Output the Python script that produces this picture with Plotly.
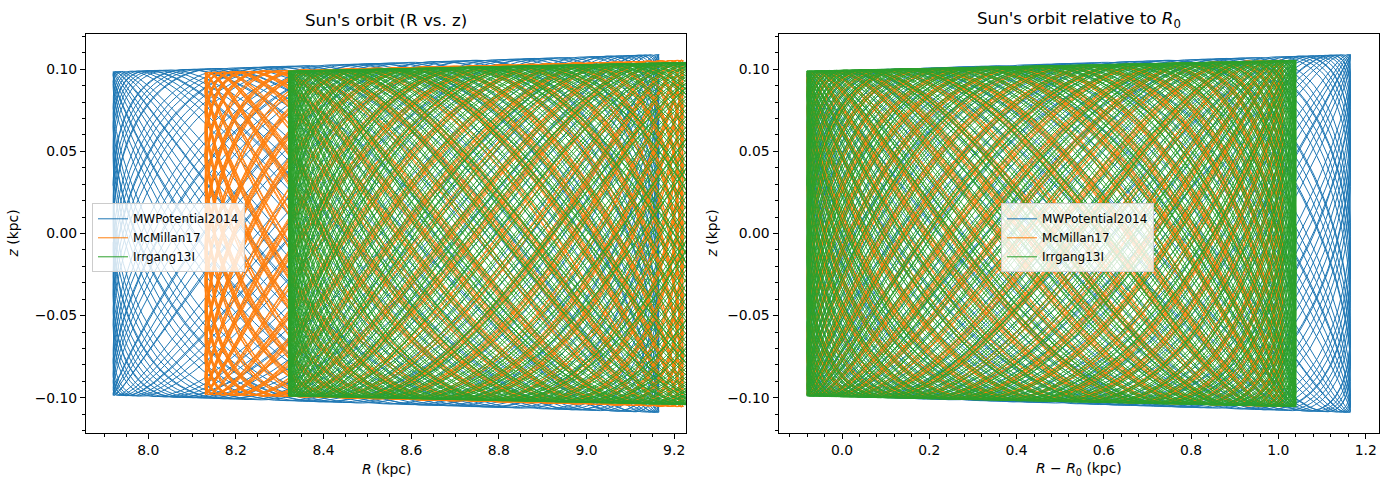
import numpy as np
import plotly.graph_objects as go

# ---- data ----
models = ["MWPotential2014", "McMillan17", "Irrgang13I"]
colors = ["#1f77b4", "#ff7f0e", "#2ca02c"]
R0_kpc = [8.0, 8.21, 8.4]                 # solar radius of each potential
dR_min = [-0.08, -0.08, -0.08]            # pericentre relative to R0 (kpc)
dR_max = [1.165, 1.01, 1.04]              # apocentre relative to R0 (kpc)
z_amp_inner = [0.0985, 0.098, 0.099]      # |z| envelope at pericentre (kpc)
z_amp_outer = [0.109, 0.1055, 0.1055]     # |z| envelope at apocentre (kpc)
nu_over_kappa = [1.7236, 1.7813, 1.8219]  # vertical / radial frequency ratio
n_radial_periods = [40, 85, 85]           # radial periods covered by the integration

left_xticks = [8.0, 8.2, 8.4, 8.6, 8.8, 9.0, 9.2]
right_xticks = [0.0, 0.2, 0.4, 0.6, 0.8, 1.0, 1.2]
yticks = [-0.10, -0.05, 0.00, 0.05, 0.10]

W, H = 1388, 490
FONT = "DejaVu Sans"


def orbit(i):
    n = n_radial_periods[i]
    t = np.linspace(0, 2 * np.pi * n, n * 260)
    mid = 0.5 * (dR_min[i] + dR_max[i])
    half = 0.5 * (dR_max[i] - dR_min[i])
    dR = mid - half * np.cos(t)
    frac = (dR - dR_min[i]) / (dR_max[i] - dR_min[i])
    Z = z_amp_inner[i] + (z_amp_outer[i] - z_amp_inner[i]) * frac
    z = Z * np.sin(nu_over_kappa[i] * t + 0.3)
    return dR, z


fig = go.Figure()
for i, name in enumerate(models):
    dR, z = orbit(i)
    fig.add_trace(go.Scatter(x=R0_kpc[i] + dR, y=z, mode="lines", name=name,
                             line=dict(color=colors[i], width=1),
                             xaxis="x", yaxis="y", legend="legend"))
for i, name in enumerate(models):
    dR, z = orbit(i)
    fig.add_trace(go.Scatter(x=dR, y=z, mode="lines", name=name,
                             line=dict(color=colors[i], width=1),
                             xaxis="x2", yaxis="y2", legend="legend2"))

# axes geometry (pixels)
L1, R1 = 86, 686
L2, R2 = 778.5, 1379
T, B = 34.3, 432.7
dom_y = [1 - B / H, 1 - T / H]

common = dict(showline=True, linecolor="black", linewidth=1, mirror=True,
              showgrid=False, zeroline=False, ticks="outside", ticklen=5,
              tickwidth=1, tickcolor="black",
              tickfont=dict(family=FONT, size=13.9, color="black"))

fig.update_layout(
    width=W, height=H, margin=dict(l=0, r=0, t=0, b=0),
    paper_bgcolor="white", plot_bgcolor="white",
    font=dict(family=FONT, color="black"),
    xaxis=dict(domain=[L1 / W, R1 / W], range=[7.858, 9.227],
               tickvals=left_xticks, tickformat=".1f",
               minor=dict(dtick=0.05, tick0=8.0, ticks="outside", ticklen=3,
                          tickwidth=1, tickcolor="black"),
               anchor="y", **common),
    yaxis=dict(domain=dom_y, range=[-0.1213, 0.1213],
               tickvals=yticks, tickformat=".2f",
               minor=dict(dtick=0.01, tick0=0, ticks="outside", ticklen=3,
                          tickwidth=1, tickcolor="black"),
               anchor="x", **common),
    xaxis2=dict(domain=[L2 / W, R2 / W], range=[-0.1455, 1.2305],
                tickvals=right_xticks, tickformat=".1f",
                minor=dict(dtick=0.04, tick0=0.0, ticks="outside", ticklen=3,
                           tickwidth=1, tickcolor="black"),
                anchor="y2", **common),
    yaxis2=dict(domain=dom_y, range=[-0.1213, 0.1213],
                tickvals=yticks, tickformat=".2f",
                minor=dict(dtick=0.01, tick0=0, ticks="outside", ticklen=3,
                           tickwidth=1, tickcolor="black"),
                anchor="x2", **common),
    legend=dict(x=92 / W, y=1 - 203.3 / H, xanchor="left", yanchor="top",
                bgcolor="rgba(255,255,255,0.8)", bordercolor="#cccccc",
                borderwidth=1, font=dict(family=FONT, size=12, color="black")),
    legend2=dict(x=1001 / W, y=1 - 203.3 / H, xanchor="left", yanchor="top",
                 bgcolor="rgba(255,255,255,0.8)", bordercolor="#cccccc",
                 borderwidth=1, font=dict(family=FONT, size=12, color="black")),
    showlegend=True,
)


def ann(text, x, y, size, angle=0):
    fig.add_annotation(text=text, x=x / W, y=1 - y / H, xref="paper", yref="paper",
                       showarrow=False, xanchor="center", yanchor="middle",
                       textangle=angle, font=dict(family=FONT, size=size, color="black"))


ann("Sun's orbit (R vs. z)", (L1 + R1) / 2, 20, 16.7)
ann("Sun's orbit relative to <i>R</i><sub>0</sub>", (L2 + R2) / 2, 19, 16.7)
ann("<i>R</i> (kpc)", (L1 + R1) / 2, 469, 13.9)
ann("<i>R</i> − <i>R</i><sub>0</sub> (kpc)", (L2 + R2) / 2, 469, 13.9)
ann("<i>z</i> (kpc)", 12, (T + B) / 2, 13.9, -90)
ann("<i>z</i> (kpc)", 711, (T + B) / 2, 13.9, -90)

fig.write_html("out.html")
